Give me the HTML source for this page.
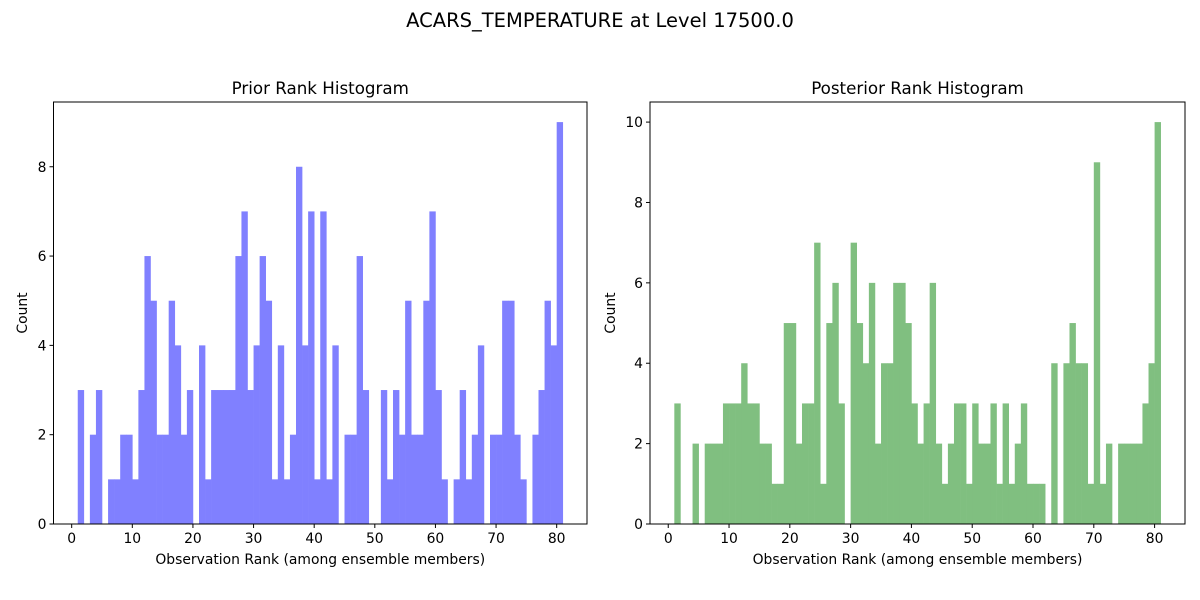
<!DOCTYPE html>
<html><head><meta charset="utf-8"><style>
html,body{margin:0;padding:0;background:#fff;}
svg{display:block;font-family:"DejaVu Sans","Liberation Sans",sans-serif;}
</style></head><body>
<svg id="fig" width="1200" height="600" viewBox="0 0 1200 600">
<text x="600" y="27" text-anchor="middle" font-size="19.5">ACARS_TEMPERATURE at Level 17500.0</text>
</svg>
<script>
const ranks = [];
for (let r = 1; r <= 80; r++) ranks.push(r);
const priorCounts = [3,0,2,3,0,1,1,2,2,1,3,6,5,2,2,5,4,2,3,0,4,1,3,3,3,3,6,7,3,4,6,5,1,4,1,2,8,4,7,1,7,1,4,0,2,2,6,3,0,0,3,1,3,2,5,2,2,5,7,3,1,0,1,3,1,2,4,0,2,2,5,5,2,1,0,2,3,5,4,9];
const postCounts = [3,0,0,2,0,2,2,2,3,3,3,4,3,3,2,2,1,1,5,5,2,3,3,7,1,5,6,3,0,7,5,4,6,2,4,4,6,6,5,3,2,3,6,2,1,2,3,3,1,3,2,2,3,1,3,1,2,3,1,1,1,0,4,0,4,5,4,4,1,9,1,2,0,2,2,2,2,3,4,10];
const xTicks = [0,10,20,30,40,50,60,70,80];
const priorYTicks = [0,2,4,6,8];
const postYTicks = [0,2,4,6,8,10];

const NS = 'http://www.w3.org/2000/svg';
const svg = document.getElementById('fig');
function mk(tag, attrs, parent) {
  const e = document.createElementNS(NS, tag);
  for (const k in attrs) e.setAttribute(k, attrs[k]);
  (parent || svg).appendChild(e);
  return e;
}

function panel(cfg) {
  const g = mk('g', {});
  
  
  const x = v => cfg.x0 + (v - (-3)) / 88 * (cfg.x1 - cfg.x0);
  const y = v => cfg.y1 - v / cfg.ymax * (cfg.y1 - cfg.y0);
  cfg.counts.forEach((c, i) => {
    if (c <= 0) return;
    const r = ranks[i];
    const b = mk('rect', {x: x(r), y: y(c), width: x(r + 1) - x(r) + 0.3, height: y(0) - y(c), fill: cfg.color}, g);
    
    
  });
  const frame = mk('rect', {x: cfg.x0, y: cfg.y0, width: cfg.x1 - cfg.x0, height: cfg.y1 - cfg.y0, fill: 'none', stroke: '#000', 'stroke-width': 1}, g);
  
  
  xTicks.forEach(t => {
    mk('line', {x1: x(t), x2: x(t), y1: cfg.y1, y2: cfg.y1 + 4, stroke: '#000'}, g);
    const tl = mk('text', {x: x(t), y: cfg.y1 + 19, 'text-anchor': 'middle', 'font-size': 13.9}, g);
    tl.textContent = t;
    
    
  });
  cfg.yTicks.forEach(t => {
    mk('line', {x1: cfg.x0 - 4, x2: cfg.x0, y1: y(t), y2: y(t), stroke: '#000'}, g);
    const tl = mk('text', {x: cfg.x0 - 7, y: y(t) + 5, 'text-anchor': 'end', 'font-size': 13.9}, g);
    tl.textContent = t;
    
    
  });
  const ti = mk('text', {x: (cfg.x0 + cfg.x1) / 2, y: cfg.y0 - 8, 'text-anchor': 'middle', 'font-size': 16.7}, g);
  ti.textContent = cfg.title;
  
  
  const xl = mk('text', {x: (cfg.x0 + cfg.x1) / 2, y: 564, 'text-anchor': 'middle', 'font-size': 13.9}, g);
  xl.textContent = 'Observation Rank (among ensemble members)';
  
  
  const yl = mk('text', {x: 0, y: 0, 'text-anchor': 'middle', 'font-size': 13.9, transform: 'translate(' + cfg.ylx + ',' + ((cfg.y0 + cfg.y1) / 2) + ') rotate(-90)'}, g);
  yl.textContent = 'Count';
  
  
}

panel({name: 'prior-rank-histogram', title: 'Prior Rank Histogram', x0: 53.5, x1: 587, y0: 102, y1: 524, ymax: 9.45, counts: priorCounts, yTicks: priorYTicks, color: '#8080ff', ylx: 27});
panel({name: 'posterior-rank-histogram', title: 'Posterior Rank Histogram', x0: 650, x1: 1185, y0: 102, y1: 524, ymax: 10.5, counts: postCounts, yTicks: postYTicks, color: '#80bf80', ylx: 615});
</script>
</body></html>
